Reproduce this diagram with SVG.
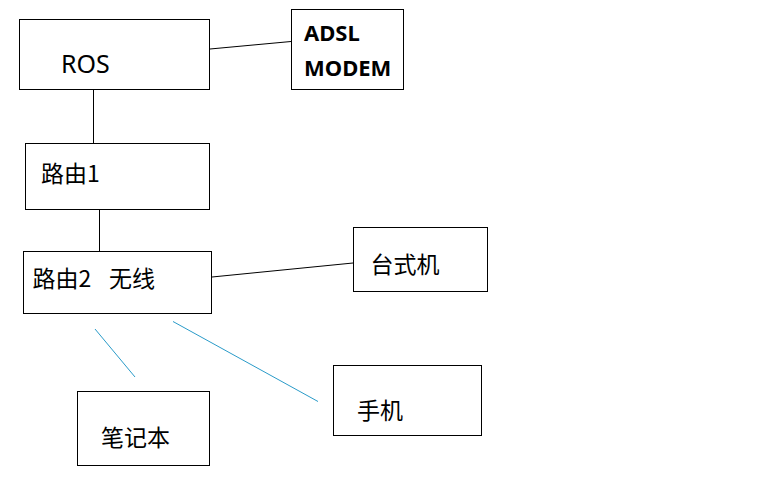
<svg xmlns="http://www.w3.org/2000/svg" width="768" height="480" viewBox="0 0 768 480">
<style>
.box{fill:#fff;stroke:#000;stroke-width:1}
.t{font-family:"Noto Sans","Noto Sans CJK SC",sans-serif;font-size:22px;fill:#000}
.cjk{font-family:"Noto Sans CJK SC",sans-serif;font-size:23px;fill:#000}
.b{font-family:"Noto Sans","Noto Sans CJK SC",sans-serif;font-size:22px;font-weight:bold;fill:#000}
.ln{stroke:#000;stroke-width:1;fill:none}
.wl{stroke:#2a9bc9;stroke-width:1;fill:none}
</style>
<rect width="768" height="480" fill="#fff"/>
<g id="connectors">
<line class="ln" x1="210" y1="49" x2="291" y2="41.5"/>
<line class="ln" x1="93.5" y1="90" x2="93.5" y2="143"/>
<line class="ln" x1="99.5" y1="210" x2="99.5" y2="251"/>
<line class="ln" x1="212" y1="277" x2="353" y2="263"/>
<line class="wl" x1="95" y1="329" x2="135" y2="377"/>
<line class="wl" x1="173" y1="321.5" x2="318" y2="401.5"/>
</g>
<g id="ros">
<rect class="box" x="19.5" y="19.5" width="190" height="70"/>
<text class="t" x="61" y="72.5" style="font-size:25px">ROS</text>
</g>
<g id="modem">
<rect class="box" x="291.5" y="9.5" width="112" height="80"/>
<text class="b" x="304" y="40.5">ADSL</text>
<text class="b" x="304" y="75.5">MODEM</text>
</g>
<g id="router1">
<rect class="box" x="25.5" y="143.5" width="184" height="66"/>
<text class="cjk" x="41" y="181.5">路由1</text>
</g>
<g id="router2">
<rect class="box" x="23.5" y="251.5" width="188" height="62"/>
<text class="cjk" x="32.5" y="286.5">路由2<tspan x="109">无线</tspan></text>
</g>
<g id="desktop">
<rect class="box" x="353.5" y="227.5" width="134" height="64"/>
<text class="cjk" x="370.5" y="272.5">台式机</text>
</g>
<g id="laptop">
<rect class="box" x="77.5" y="391.5" width="132" height="74"/>
<text class="cjk" x="101" y="446">笔记本</text>
</g>
<g id="phone">
<rect class="box" x="333.5" y="365.5" width="148" height="70"/>
<text class="cjk" x="357" y="419">手机</text>
</g>
</svg>
